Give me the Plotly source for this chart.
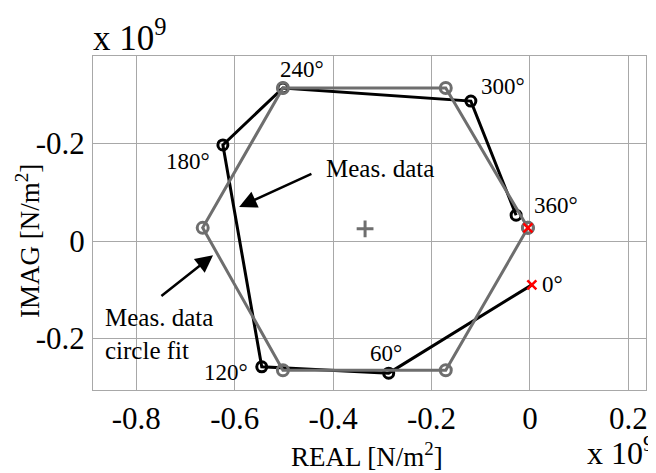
import plotly.graph_objects as go

# Measured data (black), angles 0..360 deg
meas_angles = ["0°", "60°", "120°", "180°", "240°", "300°", "360°"]
meas_real = [0.004, -0.287, -0.545, -0.624, -0.502, -0.120, -0.028]
meas_imag = [-0.090, -0.271, -0.258, 0.197, 0.314, 0.287, 0.053]

# Circle fit (gray hexagon), closed
fit_real = [-0.004, -0.171, -0.502, -0.665, -0.502, -0.171, -0.004]
fit_imag = [0.027, -0.265, -0.265, 0.027, 0.314, 0.314, 0.027]

# Circle-fit centre
center_real = [-0.335]
center_imag = [0.025]

# Start markers (red x)
start_real = [0.004, -0.004]
start_imag = [-0.090, 0.027]

x_tickvals = [-0.8, -0.6, -0.4, -0.2, 0, 0.2]
x_ticktext = ["-0.8", "-0.6", "-0.4", "-0.2", "0", "0.2"]
y_tickvals = [-0.2, 0, 0.2]
y_ticktext = ["-0.2", "0", "-0.2"]

# Angle label positions
label_text = ["240°", "300°", "180°", "360°", "120°", "60°", "0°"]
label_x = [-0.463, -0.055, -0.695, 0.053, -0.618, -0.293, 0.045]
label_y = [0.351, 0.316, 0.164, 0.072, -0.269, -0.230, -0.090]

FONT = "Liberation Serif"
GRAY = "#6e6e6e"

fig = go.Figure()
fig.add_trace(go.Scatter(
    x=meas_real, y=meas_imag, mode="lines", line=dict(color="black", width=3),
    showlegend=False, hoverinfo="skip"))
fig.add_trace(go.Scatter(
    x=meas_real[1:], y=meas_imag[1:], mode="markers",
    marker=dict(symbol="circle-open", size=10, color="black", line=dict(width=3, color="black")),
    showlegend=False, hoverinfo="skip"))
fig.add_trace(go.Scatter(
    x=fit_real, y=fit_imag, mode="lines+markers", line=dict(color=GRAY, width=3),
    marker=dict(symbol="circle-open", size=11, color=GRAY, line=dict(width=3, color=GRAY)),
    showlegend=False, hoverinfo="skip"))
fig.add_trace(go.Scatter(
    x=center_real, y=center_imag, mode="markers",
    marker=dict(symbol="cross-thin", size=12, color=GRAY, line=dict(width=3, color=GRAY)),
    showlegend=False, hoverinfo="skip"))
fig.add_trace(go.Scatter(
    x=start_real, y=start_imag, mode="markers",
    marker=dict(symbol="x-thin", size=9, color="red", line=dict(width=2.5, color="red")),
    showlegend=False, hoverinfo="skip"))

# page has an 8px body margin; plot area in page pixels: 93..646 x 56..390
OFF = 8
W, H = 656 - OFF, 473 - OFF
L, T = 93 - OFF, 56 - OFF
R = (OFF + W) - 646
B = (OFF + H) - 390
pw, ph = W - L - R, H - T - B


def px_x(p):
    return (p - 93) / pw


def px_y(p):
    return (390 - p) / ph


annotations = []
for t, lx, ly in zip(label_text, label_x, label_y):
    annotations.append(dict(x=lx, y=ly, xref="x", yref="y", text=t, showarrow=False,
                            xanchor="center", yanchor="middle",
                            font=dict(family=FONT, size=23, color="black")))

annotations.append(dict(x=-0.305, y=0.148, xref="x", yref="y", text="Meas. data",
                        showarrow=False, xanchor="center", yanchor="middle",
                        font=dict(family=FONT, size=25, color="black")))
annotations.append(dict(x=-0.868, y=-0.191, xref="x", yref="y", text="Meas. data<br>circle fit",
                        showarrow=False, xanchor="left", yanchor="middle", align="left",
                        font=dict(family=FONT, size=25, color="black")))
# arrows
annotations.append(dict(x=-0.591, y=0.070, ax=-0.441, ay=0.139, xref="x", yref="y",
                        axref="x", ayref="y", text="", showarrow=True, arrowhead=2,
                        arrowsize=1.4, arrowwidth=2.5, arrowcolor="black"))
annotations.append(dict(x=-0.644, y=-0.029, ax=-0.752, ay=-0.115, xref="x", yref="y",
                        axref="x", ayref="y", text="", showarrow=True, arrowhead=2,
                        arrowsize=1.4, arrowwidth=2.5, arrowcolor="black"))
# exponent labels
annotations.append(dict(x=px_x(91), y=px_y(60), xref="paper", yref="paper", xanchor="left",
                        yanchor="bottom", text="x 10<sup>9</sup>", showarrow=False,
                        font=dict(family=FONT, size=35, color="black")))
annotations.append(dict(x=px_x(656), y=px_y(473), xref="paper", yref="paper", xanchor="right",
                        yanchor="bottom", text="x 10<sup>9</sup>", showarrow=False,
                        font=dict(family=FONT, size=32, color="black")))
# axis titles
annotations.append(dict(x=px_x(367), y=px_y(455), xref="paper", yref="paper",
                        xanchor="center", yanchor="middle",
                        text="REAL [N/m<sup>2</sup>]",
                        showarrow=False, font=dict(family=FONT, size=27, color="black")))
annotations.append(dict(x=px_x(28), y=px_y(241), xref="paper", yref="paper",
                        xanchor="center", yanchor="middle",
                        text="IMAG [N/m<sup>2</sup>]",
                        showarrow=False, textangle=-90,
                        font=dict(family=FONT, size=27, color="black")))

fig.update_layout(
    width=W, height=H, margin=dict(l=L, r=R, t=T, b=B, autoexpand=False),
    paper_bgcolor="white", plot_bgcolor="white",
    annotations=annotations,
    xaxis=dict(range=[-0.888, 0.236], tickvals=x_tickvals, ticktext=x_ticktext,
               automargin=False,
               showgrid=True, gridcolor="#a8a8a8", gridwidth=1, zeroline=False,
               showline=True, linecolor="#a8a8a8", linewidth=1, mirror=True,
               ticks="", tickfont=dict(family=FONT, size=31, color="black"),
               ticklabelstandoff=1),
    yaxis=dict(range=[-0.3056, 0.3795], tickvals=y_tickvals, ticktext=y_ticktext,
               automargin=False,
               showgrid=True, gridcolor="#a8a8a8", gridwidth=1, zeroline=False,
               showline=True, linecolor="#a8a8a8", linewidth=1, mirror=True,
               ticks="", tickfont=dict(family=FONT, size=31, color="black"),
               ticklabelstandoff=1),
)

fig.write_html("out.html")
